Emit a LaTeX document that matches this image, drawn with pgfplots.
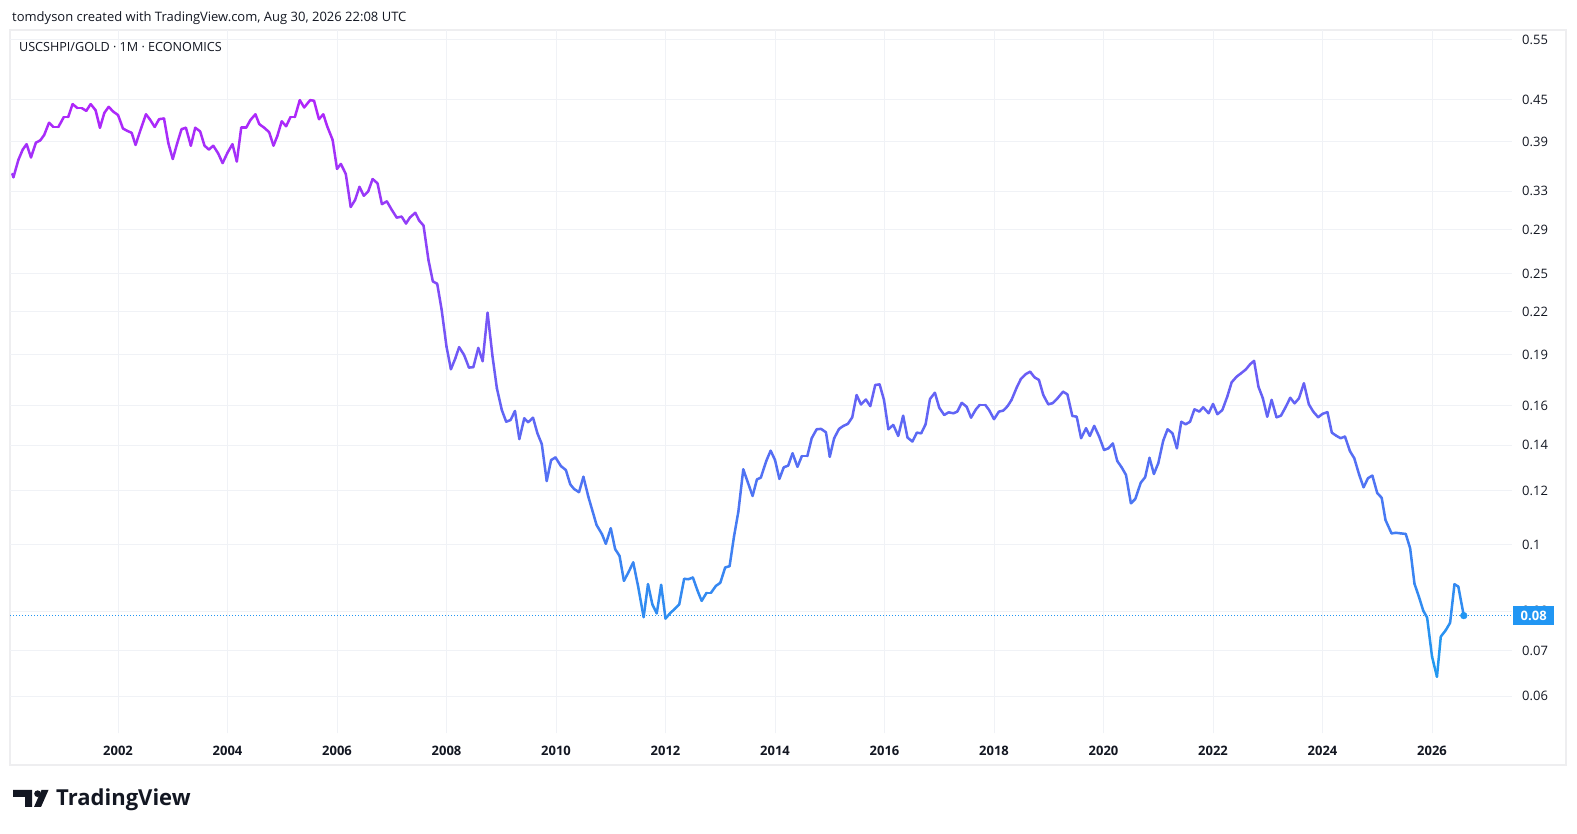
\documentclass[border=0pt]{standalone}
\usepackage{fontspec}
\setmainfont{Open Sans}
\usepackage{pgfplots}
\usepackage{pgfplotstable}
\pgfplotsset{compat=1.18}
\definecolor{tvtext}{RGB}{19,23,34}
\definecolor{tvgrid}{RGB}{240,242,246}
\definecolor{tvblue}{RGB}{33,150,243}
\definecolor{tvborder}{RGB}{238,238,240}
\pgfplotstableread{
t v
2000.07 0.350
2000.09 0.346
2000.18 0.367
2000.26 0.380
2000.33 0.387
2000.41 0.370
2000.50 0.389
2000.58 0.392
2000.65 0.399
2000.74 0.416
2000.82 0.410
2000.91 0.410
2001.01 0.424
2001.09 0.424
2001.17 0.443
2001.26 0.437
2001.34 0.437
2001.42 0.433
2001.50 0.443
2001.59 0.434
2001.67 0.409
2001.75 0.430
2001.83 0.439
2001.91 0.432
2002.00 0.427
2002.09 0.408
2002.16 0.405
2002.25 0.402
2002.32 0.386
2002.42 0.408
2002.51 0.428
2002.58 0.421
2002.67 0.410
2002.75 0.421
2002.84 0.422
2002.92 0.388
2003.00 0.368
2003.08 0.388
2003.16 0.407
2003.24 0.409
2003.33 0.385
2003.41 0.409
2003.50 0.404
2003.58 0.385
2003.66 0.380
2003.74 0.385
2003.83 0.375
2003.91 0.363
2004.00 0.376
2004.09 0.387
2004.17 0.365
2004.25 0.409
2004.34 0.409
2004.42 0.420
2004.51 0.428
2004.58 0.414
2004.67 0.409
2004.76 0.403
2004.84 0.385
2004.91 0.398
2004.99 0.418
2005.07 0.411
2005.15 0.424
2005.23 0.424
2005.32 0.449
2005.40 0.438
2005.51 0.449
2005.58 0.448
2005.67 0.421
2005.75 0.428
2005.82 0.411
2005.92 0.3925
2006.00 0.356
2006.07 0.362
2006.16 0.350
2006.25 0.313
2006.33 0.3205
2006.41 0.335
2006.49 0.325
2006.57 0.330
2006.65 0.344
2006.74 0.339
2006.82 0.316
2006.91 0.319
2007.00 0.310
2007.09 0.302
2007.18 0.303
2007.26 0.296
2007.33 0.302
2007.43 0.307
2007.50 0.299
2007.58 0.294
2007.67 0.2617
2007.75 0.2435
2007.83 0.2415
2007.91 0.2215
2008.00 0.1953
2008.08 0.181
2008.16 0.1877
2008.23 0.195
2008.32 0.190
2008.41 0.182
2008.49 0.1823
2008.58 0.1945
2008.66 0.186
2008.75 0.219
2008.84 0.189
2008.92 0.1697
2009.01 0.1577
2009.09 0.1516
2009.17 0.1525
2009.25 0.1572
2009.33 0.1430
2009.42 0.1534
2009.49 0.1513
2009.58 0.1537
2009.66 0.1458
2009.74 0.1406
2009.83 0.1241
2009.91 0.1332
2009.99 0.1344
2010.09 0.1305
2010.18 0.1288
2010.26 0.1227
2010.33 0.1208
2010.42 0.1195
2010.50 0.1259
2010.59 0.1177
2010.67 0.1119
2010.74 0.1070
2010.84 0.1037
2010.91 0.1004
2011.00 0.1058
2011.08 0.0986
2011.16 0.0964
2011.24 0.0886
2011.32 0.0911
2011.41 0.0943
2011.50 0.0869
2011.60 0.0784
2011.68 0.0876
2011.76 0.0818
2011.84 0.0794
2011.92 0.0874
2012.00 0.0780
2012.08 0.0794
2012.17 0.0806
2012.25 0.0818
2012.34 0.0892
2012.42 0.0891
2012.50 0.0896
2012.58 0.0859
2012.66 0.0828
2012.75 0.0851
2012.83 0.0851
2012.92 0.0871
2013.00 0.0880
2013.09 0.0927
2013.17 0.0931
2013.25 0.1028
2013.33 0.1119
2013.42 0.1291
2013.59 0.1180
2013.67 0.1248
2013.74 0.1255
2013.84 0.1328
2013.92 0.1375
2014.00 0.1332
2014.08 0.1250
2014.16 0.1300
2014.24 0.1307
2014.32 0.1363
2014.41 0.1302
2014.49 0.1350
2014.59 0.1350
2014.67 0.1434
2014.76 0.1478
2014.84 0.1480
2014.93 0.1463
2015.00 0.1347
2015.08 0.1434
2015.17 0.1480
2015.25 0.1495
2015.33 0.1505
2015.41 0.1539
2015.49 0.1659
2015.57 0.1607
2015.66 0.1634
2015.74 0.1598
2015.83 0.1716
2015.91 0.1720
2015.99 0.1632
2016.07 0.1478
2016.16 0.1500
2016.25 0.1445
2016.34 0.1547
2016.42 0.1437
2016.51 0.1418
2016.59 0.1461
2016.67 0.1458
2016.75 0.1503
2016.83 0.1637
2016.92 0.1672
2017.00 0.1589
2017.09 0.1551
2017.17 0.1565
2017.26 0.1560
2017.33 0.1569
2017.41 0.1616
2017.50 0.1595
2017.58 0.1537
2017.67 0.1581
2017.74 0.1605
2017.84 0.1605
2017.91 0.1577
2018.00 0.1529
2018.09 0.1569
2018.17 0.1574
2018.25 0.1599
2018.32 0.1632
2018.42 0.1706
2018.49 0.1751
2018.58 0.1781
2018.66 0.1795
2018.74 0.1761
2018.82 0.1746
2018.90 0.1659
2018.99 0.1608
2019.07 0.1614
2019.16 0.1641
2019.26 0.1678
2019.34 0.1663
2019.43 0.1546
2019.51 0.1542
2019.59 0.1434
2019.68 0.1483
2019.75 0.1445
2019.83 0.1495
2019.92 0.1442
2020.01 0.1378
2020.09 0.1386
2020.17 0.1409
2020.25 0.1328
2020.33 0.1300
2020.41 0.1267
2020.50 0.1151
2020.58 0.1168
2020.68 0.1234
2020.76 0.1257
2020.84 0.1342
2020.92 0.1271
2021.00 0.1318
2021.09 0.1422
2021.17 0.1478
2021.26 0.1458
2021.34 0.1386
2021.42 0.1516
2021.50 0.1503
2021.58 0.1516
2021.66 0.1581
2021.75 0.1569
2021.82 0.1592
2021.92 0.1560
2022.00 0.1610
2022.08 0.1555
2022.17 0.1577
2022.26 0.1650
2022.34 0.1732
2022.43 0.1765
2022.51 0.1785
2022.60 0.1809
2022.68 0.1842
2022.75 0.1862
2022.83 0.1706
2022.91 0.1641
2022.99 0.1542
2023.07 0.1632
2023.16 0.1539
2023.24 0.1547
2023.33 0.1595
2023.41 0.1644
2023.49 0.1613
2023.57 0.1641
2023.66 0.1726
2023.75 0.1608
2023.83 0.1569
2023.92 0.1539
2024.00 0.1557
2024.09 0.1566
2024.17 0.1461
2024.25 0.1446
2024.33 0.1434
2024.41 0.1442
2024.50 0.1373
2024.58 0.1340
2024.67 0.1267
2024.75 0.1215
2024.83 0.1253
2024.91 0.1264
2025.00 0.1191
2025.08 0.1173
2025.15 0.1088
2025.26 0.1040
2025.34 0.1042
2025.43 0.1040
2025.52 0.1038
2025.60 0.0989
2025.68 0.0877
2025.76 0.0840
2025.84 0.0801
2025.91 0.0783
2026.00 0.0686
2026.09 0.0641
2026.16 0.0734
2026.25 0.0750
2026.33 0.0769
2026.41 0.0876
2026.48 0.0869
2026.58 0.0788
}\ratio
\begin{document}
\begin{tikzpicture}
\path[use as bounding box, fill=white] (0pt,0pt) rectangle (1577pt,834pt);
\draw[tvborder, line width=2pt] (10pt,69pt) rectangle (1566pt,804pt);
\node[anchor=base west, inner sep=0pt, text=tvtext, font=\fontsize{13}{15}\selectfont] at (12pt,812.5pt) {tomdyson created with TradingView.com, Aug 30, 2026 22:08 UTC};
\begin{axis}[
  at={(10pt,101pt)}, anchor=south west,
  scale only axis, width=1502pt, height=703pt,
  xmin=2000.027, xmax=2027.461,
  ymode=log, ymin=0.05301, ymax=0.5689,
  axis line style={draw=none},
  major tick length=0pt,
  grid=major, major grid style={draw=tvgrid, line width=1pt},
  xtick={2002,2004,2006,2008,2010,2012,2014,2016,2018,2020,2022,2024,2026},
  xticklabels={2002,2004,2006,2008,2010,2012,2014,2016,2018,2020,2022,2024,2026},
  xticklabel style={font=\fontsize{13}{13}\selectfont\bfseries, text=tvtext, anchor=center, yshift=-17.7pt},
  ytick={0.06,0.07,0.08,0.1,0.12,0.14,0.16,0.19,0.22,0.25,0.29,0.33,0.39,0.45,0.55},
  yticklabels={0.06,0.07,0.08,0.1,0.12,0.14,0.16,0.19,0.22,0.25,0.29,0.33,0.39,0.45,0.55},
  yticklabel pos=right,
  yticklabel style={font=\fontsize{13}{13}\selectfont, text=tvtext, anchor=west, inner sep=0pt, xshift=10pt},
  clip=false,
  colormap={tv}{rgb255=(30,155,240) rgb255=(176,38,250)},
]
\addplot[tvblue, line width=1pt, dash pattern=on 1pt off 2pt, forget plot] coordinates {(2000.027,0.0788) (2027.461,0.0788)};
\addplot[mesh, point meta=explicit, line width=2.5pt, line cap=round, line join=round] table[x=t, y=v, meta expr={ln(\thisrow{v})}] {\ratio};
\addplot[only marks, mark=*, mark size=3.4pt, mark options={draw=tvblue, fill=tvblue}] coordinates {(2026.58,0.0788)};
\node[fill=tvblue, text=white, font=\fontsize{13}{13}\selectfont\bfseries, anchor=west, minimum height=19pt, minimum width=41pt, inner sep=0pt, xshift=1pt] at (axis cs:2027.461,0.0788) {0.08};
\node[anchor=base west, inner sep=0pt, text=tvtext, font=\fontsize{12.6}{14}\selectfont] at (axis cs:2000.19,0.5689) [yshift=-21.7pt] {USCSHPI/GOLD · 1M · ECONOMICS};
\end{axis}
\fill[tvtext] (13pt,44pt) -- (32pt,44pt) -- (32pt,27pt) -- (25pt,27pt) -- (25pt,37pt) -- (13pt,37pt) -- cycle;
\fill[tvtext] (37.6pt,40.3pt) circle (3.4pt);
\fill[tvtext] (41.5pt,44pt) -- (48.5pt,44pt) -- (41pt,27pt) -- (34pt,27pt) -- cycle;
\node[anchor=base west, inner sep=0pt, text=tvtext, font=\fontsize{22}{24}\selectfont\bfseries] at (56pt,28pt) {TradingView};
\end{tikzpicture}
\end{document}
